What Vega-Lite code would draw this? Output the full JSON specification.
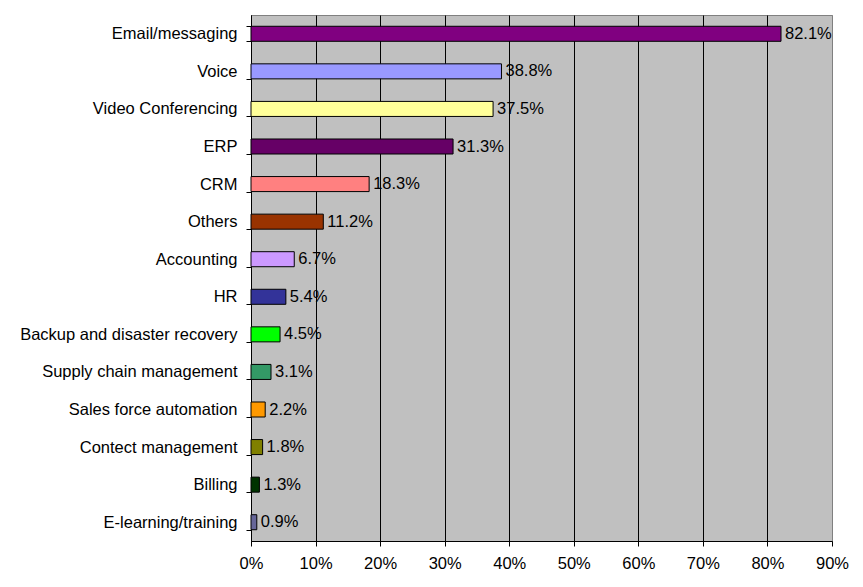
{
  "$schema": "https://vega.github.io/schema/vega-lite/v6.json",
  "width": 581,
  "height": 526,
  "autosize": {"type": "none"},
  "padding": {"left": 251, "top": 15, "right": 31, "bottom": 46},
  "background": "white",
  "config": {
    "font": "Liberation Sans",
    "view": {"fill": "#C0C0C0", "stroke": "#808080", "strokeWidth": 1}
  },
  "data": {
    "values": [
      {"app": "Email/messaging", "share": 0.821, "color": "#800080"},
      {"app": "Voice", "share": 0.388, "color": "#9999FF"},
      {"app": "Video Conferencing", "share": 0.375, "color": "#FFFF99"},
      {"app": "ERP", "share": 0.313, "color": "#660066"},
      {"app": "CRM", "share": 0.183, "color": "#FF8080"},
      {"app": "Others", "share": 0.112, "color": "#993300"},
      {"app": "Accounting", "share": 0.067, "color": "#CC99FF"},
      {"app": "HR", "share": 0.054, "color": "#333399"},
      {"app": "Backup and disaster recovery", "share": 0.045, "color": "#00FF00"},
      {"app": "Supply chain management", "share": 0.031, "color": "#339966"},
      {"app": "Sales force automation", "share": 0.022, "color": "#FF9900"},
      {"app": "Contect management", "share": 0.018, "color": "#808000"},
      {"app": "Billing", "share": 0.013, "color": "#003300"},
      {"app": "E-learning/training", "share": 0.009, "color": "#666699"}
    ]
  },
  "encoding": {
    "y": {
      "field": "app",
      "type": "nominal",
      "sort": null,
      "scale": {"paddingInner": 0.6, "paddingOuter": 0.3},
      "axis": {
        "title": null,
        "tickBand": "extent",
        "tickSize": 5,
        "tickColor": "black",
        "domainColor": "black",
        "labelPadding": 9,
        "labelFontSize": 16.5,
        "labelColor": "black",
        "labelLimit": 0,
        "grid": false
      }
    },
    "x": {
      "field": "share",
      "type": "quantitative",
      "scale": {"domain": [0, 0.9], "nice": false},
      "axis": {
        "title": null,
        "format": ".0%",
        "values": [0, 0.1, 0.2, 0.3, 0.4, 0.5, 0.6, 0.7, 0.8, 0.9],
        "tickSize": 5,
        "tickColor": "black",
        "domainColor": "black",
        "labelPadding": 9,
        "labelFlush": false,
        "labelFontSize": 16.5,
        "labelColor": "black",
        "grid": true,
        "gridColor": {"condition": {"test": "datum.value >= 0.9", "value": "#808080"}, "value": "black"},
        "gridOpacity": 1
      }
    }
  },
  "layer": [
    {
      "mark": {"type": "bar", "stroke": "black", "strokeWidth": 1},
      "encoding": {
        "color": {"field": "color", "type": "nominal", "scale": null, "legend": null}
      }
    },
    {
      "mark": {"type": "text", "align": "left", "baseline": "middle", "dx": 4, "fontSize": 16.5, "color": "black"},
      "encoding": {
        "text": {"field": "share", "type": "quantitative", "format": ".1%"}
      }
    }
  ]
}
